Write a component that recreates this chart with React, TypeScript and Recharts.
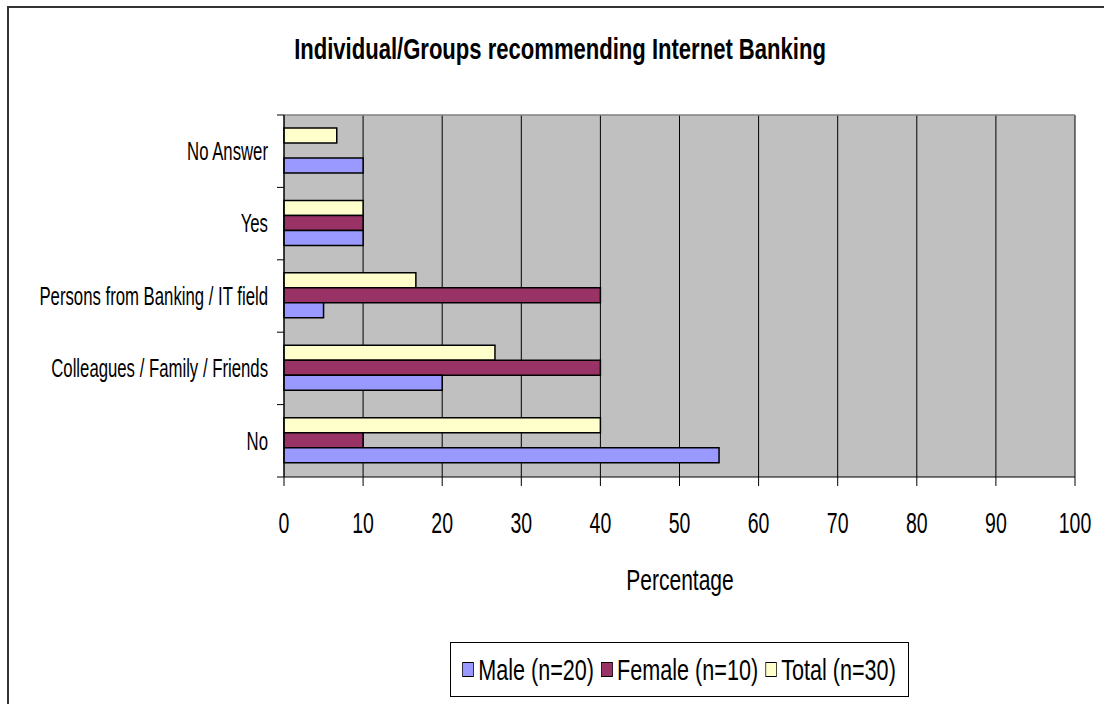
import React from "react";
import { BarChart, Bar, XAxis, YAxis, CartesianGrid } from "recharts";

// categories listed top to bottom, as they appear in the chart
const categories = [
  "No Answer",
  "Yes",
  "Persons from Banking / IT field",
  "Colleagues / Family / Friends",
  "No",
];
const male = [10, 10, 5, 20, 55];
const female = [0, 10, 40, 40, 10];
const total = [6.67, 10, 16.67, 26.67, 40];
const xTicks = [0, 10, 20, 30, 40, 50, 60, 70, 80, 90, 100];

const series = [
  { key: "male", name: "Male (n=20)", color: "#9999FF" },
  { key: "female", name: "Female (n=10)", color: "#993366" },
  { key: "total", name: "Total (n=30)", color: "#FFFFCC" },
];

const data = categories.map((c, i) => ({
  category: c,
  male: male[i],
  female: female[i],
  total: total[i],
}));

// no narrow font installed, so Arial-metric text is squeezed horizontally
const FONT = "'Liberation Sans', Arial, sans-serif";

// label plus a tick mark on the band edge (Excel puts them between categories)
const CategoryTick = (props: any) => {
  const { x, y, payload, index, visibleTicksCount } = props;
  const half = payload.offset ?? 0;
  return (
    <g>
      <line x1={x + 1} x2={x + 8} y1={y - half} y2={y - half} stroke="#000" />
      {index === visibleTicksCount - 1 && (
        <line x1={x + 1} x2={x + 8} y1={y + half} y2={y + half} stroke="#000" />
      )}
      <g transform={`translate(${x - 8},${y})`}>
        <text transform="scale(0.67,1)" textAnchor="end" dy="0.355em" fontSize={25} fontFamily={FONT} fill="#000">
          {payload.value}
        </text>
      </g>
    </g>
  );
};

const ValueTick = (props: any) => {
  const { x, y, payload } = props;
  return (
    <g transform={`translate(${x},${y})`}>
      <text transform="scale(0.65,1)" textAnchor="middle" dy="0.71em" fontSize={30} fontFamily={FONT} fill="#000">
        {payload.value}
      </text>
    </g>
  );
};

const Legend = () => (
  <div
    style={{
      position: "absolute",
      left: 441,
      top: 634,
      width: 459,
      height: 55,
      boxSizing: "border-box",
      border: "1px solid #000",
      display: "flex",
      alignItems: "center",
      justifyContent: "center",
      background: "#fff",
    }}
  >
    <div
      style={{
        display: "flex",
        alignItems: "center",
        whiteSpace: "nowrap",
        transform: "scaleX(0.72)",
        fontFamily: FONT,
        fontSize: 30,
        lineHeight: 1,
        color: "#000",
      }}
    >
      {series.map((s, i) => (
        <span key={s.key} style={{ display: "flex", alignItems: "center", marginLeft: i ? 10 : 0 }}>
          <span
            style={{
              display: "inline-block",
              width: 14,
              height: 13,
              background: s.color,
              border: "1.5px solid #000",
              marginRight: 6,
            }}
          />
          {s.name}
        </span>
      ))}
    </div>
  </div>
);

export default function App() {
  return (
    <div
      style={{
        position: "fixed",
        left: 7,
        top: 6,
        width: 1097,
        height: 698,
        boxSizing: "border-box",
        borderLeft: "2px solid #333",
        borderTop: "2px solid #333",
        background: "#fff",
      }}
    >
      <div
        style={{
          position: "absolute",
          left: 0,
          top: 26,
          width: 1102,
          textAlign: "center",
          fontFamily: FONT,
          fontWeight: "bold",
          fontSize: 30,
          lineHeight: 1,
          whiteSpace: "nowrap",
          transform: "scaleX(0.735)",
          color: "#000",
        }}
      >
        Individual/Groups recommending Internet Banking
      </div>
      <div style={{ position: "absolute", left: 0, top: 0 }}>
        <BarChart
          width={1095}
          height={696}
          data={data}
          layout="vertical"
          barCategoryGap="18%"
          barGap={0}
          margin={{ top: 107, right: 29, left: 0, bottom: 114 }}
        >
          <CartesianGrid horizontal={false} stroke="#000" fill="#C0C0C0" fillOpacity={1} />
          <CartesianGrid
            vertical={false}
            stroke="#808080"
            strokeWidth={1.5}
            horizontalCoordinatesGenerator={({ offset }: any) => [offset.top]}
          />
          <XAxis
            type="number"
            domain={[0, 100]}
            ticks={xTicks}
            interval={0}
            height={113}
            tickSize={9}
            tickMargin={26}
            stroke="#000"
            tick={<ValueTick />}
          />
          <YAxis
            type="category"
            dataKey="category"
            width={275}
            tickLine={false}
            axisLine={{ stroke: "#000" }}
            tickSize={0}
            tickMargin={8}
            interval={0}
            tick={<CategoryTick />}
          />
          {[...series].reverse().map((s) => (
            <Bar
              key={s.key}
              dataKey={s.key}
              name={s.name}
              fill={s.color}
              stroke="#000"
              strokeWidth={1.5}
              isAnimationActive={false}
            />
          ))}
        </BarChart>
      </div>
      <div
        style={{
          position: "absolute",
          left: 471,
          top: 557,
          width: 400,
          textAlign: "center",
          fontFamily: FONT,
          fontSize: 30,
          lineHeight: 1,
          transform: "scaleX(0.7)",
          color: "#000",
        }}
      >
        Percentage
      </div>
      <Legend />
    </div>
  );
}
